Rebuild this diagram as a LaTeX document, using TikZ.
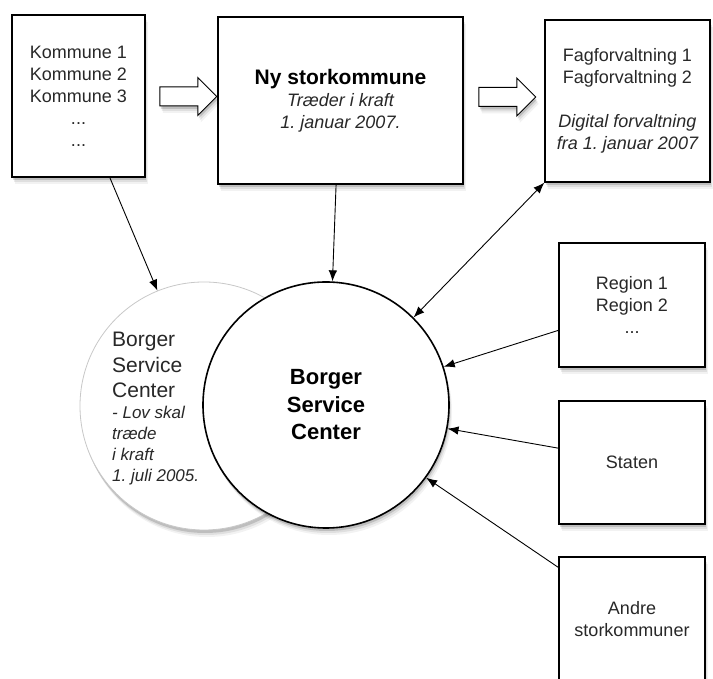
\documentclass[tikz,border=0pt]{standalone}
\usepackage{fontspec}
\setmainfont{Liberation Sans}
\usetikzlibrary{arrows.meta,shapes.arrows,shadows}
\frenchspacing

\definecolor{drawColor}{RGB}{0,0,0}
\definecolor{textColor}{RGB}{40,40,40}
\definecolor{rimColor}{RGB}{200,200,200}

\tikzset{
  softshadow/.style={
    drop shadow={shadow xshift=1pt,shadow yshift=-3pt,fill=black,opacity=.14},
    drop shadow={shadow xshift=2pt,shadow yshift=-5pt,fill=black,opacity=.08},
    drop shadow={shadow xshift=3pt,shadow yshift=-7pt,fill=black,opacity=.05}},
  boxnode/.style={draw=drawColor,line width=1.2pt,fill=white,align=center,
    inner sep=0pt,text=textColor,font=\fontsize{18}{22}\selectfont,softshadow},
  link/.style={draw=drawColor,line width=0.9pt,-{Latex[length=11pt,width=8.5pt]}},
  twolink/.style={link,{Latex[length=11pt,width=8.5pt]}-{Latex[length=11pt,width=8.5pt]}},
  hollow/.style={single arrow,draw=drawColor,line width=1pt,fill=white,
    minimum height=57pt,inner xsep=0pt,inner ysep=9pt,
    single arrow head extend=9.5pt,single arrow head indent=0pt,softshadow}
}

\begin{document}
\begin{tikzpicture}[x=1pt,y=1pt]
\path[use as bounding box,fill=white] (0,0) rectangle (713,679);

% boxes
\node[boxnode,minimum width=133pt,minimum height=162pt] (kommuner) at (78.5,583)
  {Kommune 1\\Kommune 2\\Kommune 3\\...\\...};
\node[boxnode,line width=2pt,minimum width=245pt,minimum height=167pt] (nyst) at (340.5,578.5)
  {{\fontsize{21}{22}\selectfont\bfseries\color{drawColor}Ny storkommune}\\
   {\itshape Træder i kraft}\\{\itshape 1. januar 2007.}};
\node[boxnode,minimum width=165pt,minimum height=162pt] (fag) at (627.5,578)
  {Fagforvaltning 1\\Fagforvaltning 2\\[22pt]
   {\itshape Digital forvaltning}\\{\itshape fra 1. januar 2007}};
\node[boxnode,minimum width=146pt,minimum height=124pt] (region) at (632,374)
  {Region 1\\Region 2\\...};
\node[boxnode,minimum width=146pt,minimum height=123pt] (staten) at (632,216.5)
  {Staten};
\node[boxnode,minimum width=146pt,minimum height=124pt] (andre) at (632,60)
  {Andre\\storkommuner};

% hollow arrows
\node[hollow] (arr1) at (183.5,582.5) {};
\node[hollow] (arr2) at (502.5,582) {};

% circles
\node[circle,draw=rimColor,line width=0.8pt,fill=white,minimum size=248pt,softshadow] (bscold) at (204,273) {};
\node[anchor=north west,inner sep=0pt,align=left,text=textColor,
  font=\fontsize{21}{25.5}\selectfont] (bscoldtitle) at (112,347) {Borger\\Service\\Center};
\node[anchor=north west,inner sep=0pt,align=left,text=textColor,
  font=\fontsize{17}{21.3}\selectfont\itshape] (bscoldnote) at (112,273.5)
  {- Lov skal\\træde\\i kraft\\1. juli 2005.};
\node[circle,draw=drawColor,line width=1.6pt,fill=white,minimum size=246pt,softshadow,
  align=center,font=\fontsize{22}{27.5}\selectfont\bfseries] (bsc) at (326,274)
  {Borger\\Service\\Center};

% connectors
\draw[link] (kommuner.-69) -- (bscold.112);
\draw[link] (nyst.-93) -- (bsc.87);
\draw[twolink] (bsc.45) -- (fag.south west);
\draw[link] (region.199) -- (bsc.18);
\draw[link] (staten.169) -- (bsc.-11);
\draw[link] (andre.145) -- (bsc.-36);
\end{tikzpicture}
\end{document}
